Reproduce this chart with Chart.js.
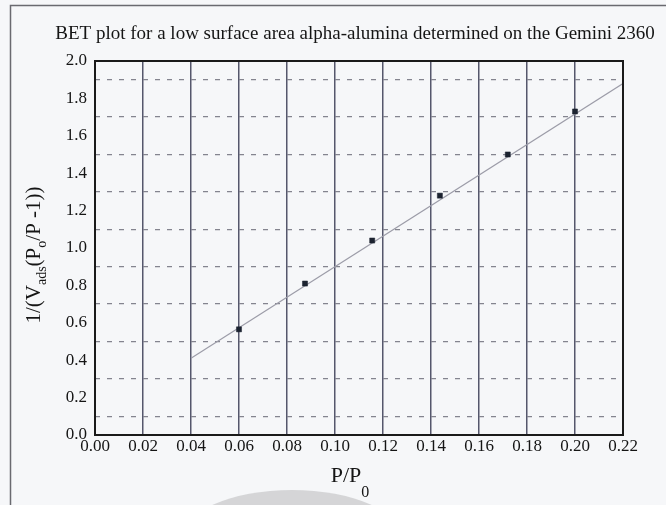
<!DOCTYPE html>
<html>
<head>
<meta charset="utf-8">
<script src="https://cdn.jsdelivr.net/npm/chart.js@4/dist/chart.umd.min.js"></script>
<style>
  html, body { margin: 0; padding: 0; background: #f6f7f9; }
  canvas { display: block; }
</style>
</head>
<body>
<canvas id="c" width="666" height="505"></canvas>
<script>
// ---- data ----
const titleText = "BET plot for a low surface area alpha-alumina determined on the Gemini 2360";
const pressureRatio = [0.060, 0.0875, 0.1155, 0.1437, 0.172, 0.200];   // P/P0
const betValues     = [0.565, 0.81, 1.04, 1.28, 1.50, 1.73];           // 1/(Vads(P0/P - 1))
const fitX = [0.04, 0.22];
const fitY = [0.41, 1.88];
const xMin = 0, xMax = 0.22, xStep = 0.02;
const yMin = 0, yMax = 2.0, yStep = 0.1;

const SERIF = '"Liberation Serif", "Times New Roman", serif';

const pointsData = pressureRatio.map((x, i) => ({ x: x, y: betValues[i] }));
const fitData = fitX.map((x, i) => ({ x: x, y: fitY[i] }));

const isEvenTenth = v => Math.round(v * 10) % 2 === 0;

const decor = {
  id: 'decor',
  beforeDraw(chart) {
    const ctx = chart.ctx;
    ctx.save();
    ctx.fillStyle = '#f6f7f9';
    ctx.fillRect(0, 0, chart.width, chart.height);
    // faint grey arc at the bottom
    ctx.beginPath();
    ctx.ellipse(292, 540, 112, 50, 0, 0, Math.PI * 2);
    ctx.fillStyle = 'rgba(185,185,188,0.55)';
    ctx.fill();
    // outer frame
    ctx.strokeStyle = '#6a6a70';
    ctx.lineWidth = 1.5;
    ctx.beginPath();
    ctx.moveTo(10.5, chart.height);
    ctx.lineTo(10.5, 5.5);
    ctx.lineTo(chart.width, 5.5);
    ctx.stroke();
    ctx.restore();
  },
  afterDraw(chart) {
    const ctx = chart.ctx;
    const a = chart.chartArea;
    ctx.save();
    // plot border
    ctx.strokeStyle = '#1a1a1a';
    ctx.lineWidth = 2;
    ctx.strokeRect(a.left, a.top, a.right - a.left, a.bottom - a.top);

    ctx.fillStyle = '#151515';
    // title
    ctx.font = '19px ' + SERIF;
    ctx.textAlign = 'center';
    ctx.textBaseline = 'alphabetic';
    ctx.fillText(titleText, 355, 39);

    // x axis title P/P0
    const big = '22px ' + SERIF, small = '16px ' + SERIF;
    ctx.font = big;
    const w1 = ctx.measureText('P/P').width;
    ctx.font = small;
    const w2 = ctx.measureText('0').width;
    let x0 = 350 - (w1 + w2) / 2;
    ctx.textAlign = 'left';
    ctx.font = big;
    ctx.fillText('P/P', x0, 482);
    ctx.font = small;
    ctx.fillText('0', x0 + w1, 497);

    // y axis title 1/(Vads(P0/P -1))
    const parts = [
      { t: '1/(V', sub: false },
      { t: 'ads', sub: true },
      { t: '(P', sub: false },
      { t: 'o', sub: true },
      { t: '/P -1))', sub: false }
    ];
    const yb = '21px ' + SERIF, ys = '14px ' + SERIF;
    let total = 0;
    parts.forEach(p => { ctx.font = p.sub ? ys : yb; p.w = ctx.measureText(p.t).width; total += p.w; });
    ctx.translate(40, 255);
    ctx.rotate(-Math.PI / 2);
    let cx = -total / 2;
    parts.forEach(p => {
      ctx.font = p.sub ? ys : yb;
      ctx.fillText(p.t, cx, p.sub ? 6 : 0);
      cx += p.w;
    });
    ctx.restore();
  }
};

new Chart(document.getElementById('c'), {
  type: 'scatter',
  data: {
    datasets: [
      {
        label: 'fit',
        data: fitData,
        showLine: true,
        borderColor: '#9c9ca8',
        borderWidth: 1.2,
        pointRadius: 0,
        order: 2
      },
      {
        label: 'BET',
        data: pointsData,
        showLine: false,
        pointStyle: 'rect',
        pointRadius: 3.6,
        backgroundColor: '#1c2330',
        borderColor: '#1c2330',
        borderWidth: 0.5,
        order: 1
      }
    ]
  },
  options: {
    responsive: false,
    animation: false,
    devicePixelRatio: 1,
    layout: { padding: { left: 0, right: 43, top: 61, bottom: 0 } },
    plugins: { legend: { display: false }, tooltip: { enabled: false }, title: { display: false } },
    scales: {
      x: {
        type: 'linear',
        min: xMin, max: xMax,
        afterFit: s => { s.height = 70; },
        afterBuildTicks: s => {
          const t = [];
          for (let i = 0; i <= Math.round((xMax - xMin) / xStep); i++) t.push({ value: +(xMin + i * xStep).toFixed(2) });
          s.ticks = t;
        },
        ticks: {
          autoSkip: false,
          maxRotation: 0,
          padding: 1,
          color: '#151515',
          font: { family: SERIF, size: 17 },
          callback: v => Number(v).toFixed(2)
        },
        grid: { color: '#55576c', lineWidth: 1.5, drawTicks: false },
        border: { display: false }
      },
      y: {
        type: 'linear',
        min: yMin, max: yMax,
        afterFit: s => { s.width = 95; },
        afterBuildTicks: s => {
          const t = [];
          for (let i = 0; i <= Math.round((yMax - yMin) / yStep); i++) t.push({ value: +(yMin + i * yStep).toFixed(1) });
          s.ticks = t;
        },
        ticks: {
          autoSkip: false,
          padding: 8,
          color: '#151515',
          font: { family: SERIF, size: 17 },
          callback: v => isEvenTenth(v) ? Number(v).toFixed(1) : ''
        },
        grid: {
          drawTicks: false,
          lineWidth: 1.3,
          color: c => (c.tick && !isEvenTenth(c.tick.value)) ? '#84848f' : 'rgba(0,0,0,0)',
          borderDash: [5, 7]
        },
        border: { display: false, dash: [5, 7] }
      }
    }
  },
  plugins: [decor]
});
</script>
</body>
</html>
